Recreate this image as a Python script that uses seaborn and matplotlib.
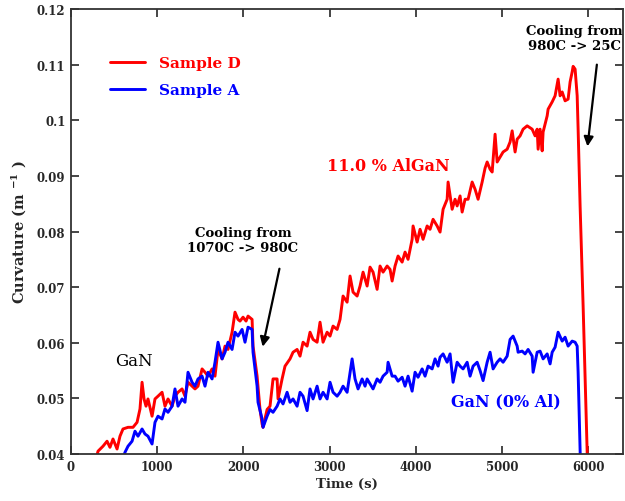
import matplotlib
matplotlib.use("Agg")
import matplotlib.pyplot as plt
import seaborn as sns
import pandas as pd

# Sample D: 11.0 % AlGaN on GaN (time in s, curvature in 1/m)
d_time = [290, 313, 371, 418, 452, 487, 534, 568, 603, 661,
          719, 766, 800, 824, 847, 870, 893, 940, 974, 1009,
          1056, 1090, 1125, 1172, 1206, 1241, 1288, 1322, 1357, 1404,
          1438, 1473, 1520, 1554, 1589, 1636, 1670, 1705, 1752, 1786,
          1821, 1868, 1902, 1937, 1960, 1995, 2030, 2053, 2100, 2111,
          2158, 2192, 2216, 2227, 2274, 2308, 2343, 2390, 2401, 2448,
          2482, 2540, 2575, 2622, 2656, 2691, 2738, 2772, 2807, 2854,
          2888, 2923, 2970, 3004, 3039, 3086, 3120, 3155, 3202, 3236,
          3271, 3318, 3352, 3387, 3434, 3468, 3503, 3550, 3584, 3619,
          3666, 3700, 3724, 3758, 3793, 3840, 3874, 3909, 3956, 3967,
          4014, 4048, 4083, 4130, 4164, 4199, 4246, 4280, 4315, 4362,
          4373, 4420, 4454, 4478, 4512, 4536, 4570, 4605, 4652, 4686,
          4721, 4768, 4802, 4826, 4860, 4884, 4918, 4942, 4976, 5011,
          5058, 5092, 5116, 5150, 5174, 5208, 5243, 5290, 5348, 5382,
          5406, 5417, 5440, 5464, 5475, 5522, 5533, 5580, 5614, 5649,
          5672, 5696, 5730, 5765, 5788, 5812, 5823, 5846, 5870, 5881,
          5904, 5939, 5986, 6010]
d_curv = [0.0390, 0.0405, 0.0414, 0.0423, 0.0412, 0.0427, 0.0409, 0.0432, 0.0445, 0.0448,
          0.0448, 0.0457, 0.0481, 0.0529, 0.0499, 0.0486, 0.0499, 0.0468, 0.0499, 0.0504,
          0.0511, 0.0486, 0.0499, 0.0486, 0.0504, 0.0511, 0.0517, 0.0504, 0.0529, 0.0522,
          0.0517, 0.0522, 0.0553, 0.0547, 0.0540, 0.0553, 0.0540, 0.0588, 0.0571, 0.0594,
          0.0588, 0.0619, 0.0655, 0.0642, 0.0639, 0.0646, 0.0639, 0.0648, 0.0642, 0.0594,
          0.0540, 0.0480, 0.0454, 0.0448, 0.0480, 0.0486, 0.0535, 0.0535, 0.0499, 0.0535,
          0.0558, 0.0571, 0.0583, 0.0588, 0.0576, 0.0601, 0.0594, 0.0619, 0.0606, 0.0601,
          0.0637, 0.0601, 0.0619, 0.0612, 0.0630, 0.0624, 0.0642, 0.0684, 0.0673, 0.0720,
          0.0691, 0.0684, 0.0702, 0.0727, 0.0702, 0.0736, 0.0727, 0.0696, 0.0738, 0.0727,
          0.0738, 0.0732, 0.0711, 0.0738, 0.0756, 0.0745, 0.0763, 0.0750, 0.0786, 0.0810,
          0.0781, 0.0804, 0.0786, 0.0810, 0.0804, 0.0822, 0.0810, 0.0799, 0.0840, 0.0858,
          0.0889, 0.0840, 0.0858, 0.0846, 0.0864, 0.0835, 0.0858, 0.0858, 0.0889, 0.0876,
          0.0858, 0.0889, 0.0914, 0.0925, 0.0912, 0.0907, 0.0975, 0.0925, 0.0934, 0.0943,
          0.0948, 0.0961, 0.0981, 0.0943, 0.0966, 0.0972, 0.0984, 0.0990, 0.0984, 0.0972,
          0.0984, 0.0948, 0.0984, 0.0945, 0.0979, 0.1008, 0.1020, 0.1033, 0.1044, 0.1074,
          0.1044, 0.1051, 0.1035, 0.1038, 0.1069, 0.1087, 0.1097, 0.1092, 0.1044, 0.0984,
          0.0846, 0.0666, 0.0403, 0.0360]

# Sample A: GaN (0 % Al)
a_time = [600, 626, 661, 708, 742, 777, 824, 858, 893, 940,
          974, 1009, 1056, 1090, 1125, 1172, 1206, 1241, 1288, 1322,
          1357, 1404, 1438, 1473, 1520, 1554, 1589, 1636, 1670, 1705,
          1752, 1786, 1821, 1868, 1902, 1937, 1984, 2018, 2053, 2100,
          2111, 2158, 2169, 2216, 2227, 2274, 2308, 2343, 2390, 2424,
          2459, 2506, 2540, 2575, 2622, 2656, 2691, 2738, 2772, 2807,
          2854, 2888, 2923, 2970, 3004, 3039, 3086, 3120, 3155, 3202,
          3260, 3294, 3329, 3376, 3410, 3434, 3468, 3503, 3550, 3584,
          3619, 3666, 3677, 3724, 3758, 3793, 3840, 3874, 3909, 3956,
          3990, 4025, 4072, 4106, 4141, 4188, 4222, 4257, 4280, 4315,
          4362, 4396, 4431, 4478, 4512, 4547, 4594, 4628, 4663, 4710,
          4744, 4779, 4826, 4860, 4895, 4942, 4976, 5011, 5058, 5092,
          5127, 5174, 5185, 5232, 5266, 5301, 5348, 5359, 5406, 5440,
          5475, 5522, 5556, 5580, 5614, 5649, 5696, 5730, 5765, 5812,
          5846, 5870, 5881, 5904, 5910]
a_curv = [0.0390, 0.0403, 0.0414, 0.0423, 0.0441, 0.0432, 0.0445, 0.0436, 0.0432, 0.0418,
          0.0457, 0.0468, 0.0463, 0.0481, 0.0475, 0.0486, 0.0517, 0.0486, 0.0499, 0.0493,
          0.0547, 0.0529, 0.0522, 0.0535, 0.0540, 0.0522, 0.0547, 0.0535, 0.0565, 0.0601,
          0.0571, 0.0583, 0.0601, 0.0588, 0.0619, 0.0612, 0.0624, 0.0601, 0.0628, 0.0624,
          0.0583, 0.0522, 0.0493, 0.0463, 0.0448, 0.0468, 0.0480, 0.0475, 0.0486, 0.0499,
          0.0490, 0.0511, 0.0493, 0.0499, 0.0486, 0.0511, 0.0504, 0.0478, 0.0517, 0.0499,
          0.0522, 0.0499, 0.0511, 0.0499, 0.0529, 0.0511, 0.0504, 0.0511, 0.0522, 0.0511,
          0.0571, 0.0535, 0.0517, 0.0535, 0.0522, 0.0535, 0.0526, 0.0517, 0.0535, 0.0529,
          0.0540, 0.0547, 0.0565, 0.0540, 0.0540, 0.0531, 0.0538, 0.0522, 0.0540, 0.0513,
          0.0547, 0.0538, 0.0553, 0.0540, 0.0558, 0.0553, 0.0571, 0.0558, 0.0574, 0.0580,
          0.0565, 0.0580, 0.0529, 0.0565, 0.0558, 0.0553, 0.0565, 0.0540, 0.0558, 0.0565,
          0.0550, 0.0532, 0.0565, 0.0583, 0.0553, 0.0565, 0.0571, 0.0565, 0.0576, 0.0606,
          0.0612, 0.0594, 0.0583, 0.0585, 0.0580, 0.0588, 0.0576, 0.0547, 0.0583, 0.0585,
          0.0571, 0.0580, 0.0562, 0.0583, 0.0592, 0.0619, 0.0603, 0.0610, 0.0594, 0.0603,
          0.0601, 0.0594, 0.0547, 0.0403, 0.0370]

x_ticks = [0, 1000, 2000, 3000, 4000, 5000, 6000]
y_ticks = [0.04, 0.05, 0.06, 0.07, 0.08, 0.09, 0.10, 0.11, 0.12]
y_tick_labels = ["0.04", "0.05", "0.06", "0.07", "0.08", "0.09", "0.1", "0.11", "0.12"]

sns.set_style("ticks")
plt.rcParams["font.family"] = ["DejaVu Serif"]
plt.rcParams["font.weight"] = "bold"
plt.rcParams["mathtext.fontset"] = "dejavuserif"

fig = plt.figure(figsize=(6.25, 5.02), dpi=100)
ax = fig.add_axes([0.1136, 0.0936, 0.883, 0.8864])

df_d = pd.DataFrame({"time": d_time, "curv": d_curv})
df_a = pd.DataFrame({"time": a_time, "curv": a_curv})
sns.lineplot(data=df_d, x="time", y="curv", ax=ax, color="#ff0000", lw=2.1,
             estimator=None, sort=False, label="Sample D")
sns.lineplot(data=df_a, x="time", y="curv", ax=ax, color="#0000ff", lw=2.1,
             estimator=None, sort=False, label="Sample A")

ax.set_xlim(0, 6400)
ax.set_ylim(0.04, 0.12)
ax.set_xticks(x_ticks)
ax.set_xticklabels([str(t) for t in x_ticks])
ax.set_yticks(y_ticks)
ax.set_yticklabels(y_tick_labels)
ax.tick_params(direction="in", top=True, right=True, length=6, width=1.2,
               labelsize=8.5, pad=4)
ax.tick_params(labeltop=False, labelright=False)
for lab in ax.get_xticklabels() + ax.get_yticklabels():
    lab.set_fontweight("bold")
for sp in ax.spines.values():
    sp.set_linewidth(1.3)
    sp.set_color("#333333")

ax.set_xlabel("Time (s)", fontsize=9.5, fontweight="bold", labelpad=3)
ax.set_ylabel(r"Curvature (m $^{\mathbf{-1}}$ )", fontsize=10.5, fontweight="bold", labelpad=6)

leg = ax.legend(loc="upper left", bbox_to_anchor=(0.045, 0.925), frameon=False,
                labelcolor="linecolor", handlelength=2.35, handletextpad=0.9,
                labelspacing=0.85, prop={"family": "DejaVu Serif", "weight": "bold", "size": 11})

ax.text(3677, 0.0918, "11.0 % AlGaN", color="#ff0000", fontsize=11.5,
        fontweight="bold", ha="center", va="center")
ax.text(5046, 0.0495, "GaN (0% Al)", color="#0000ff", fontsize=11.5,
        fontweight="bold", ha="center", va="center")
ax.text(731, 0.0569, "GaN", color="black", fontsize=12, fontweight="normal",
        ha="center", va="center")

ax.text(1995, 0.0785, "Cooling from\n1070C -> 980C", color="black", fontsize=9.5,
        fontweight="bold", ha="center", va="center", linespacing=1.15)
ax.annotate("", xy=(2216, 0.0588), xytext=(2424, 0.0738),
            arrowprops=dict(arrowstyle="-|>", color="black", lw=1.6, mutation_scale=14))

ax.text(5835, 0.1148, "Cooling from\n980C -> 25C", color="black", fontsize=9.5,
        fontweight="bold", ha="center", va="center", linespacing=1.15, clip_on=False)
ax.annotate("", xy=(5986, 0.0948), xytext=(6102, 0.1105),
            arrowprops=dict(arrowstyle="-|>", color="black", lw=1.6, mutation_scale=14))

fig.savefig("out.png", dpi=100, facecolor="white")
